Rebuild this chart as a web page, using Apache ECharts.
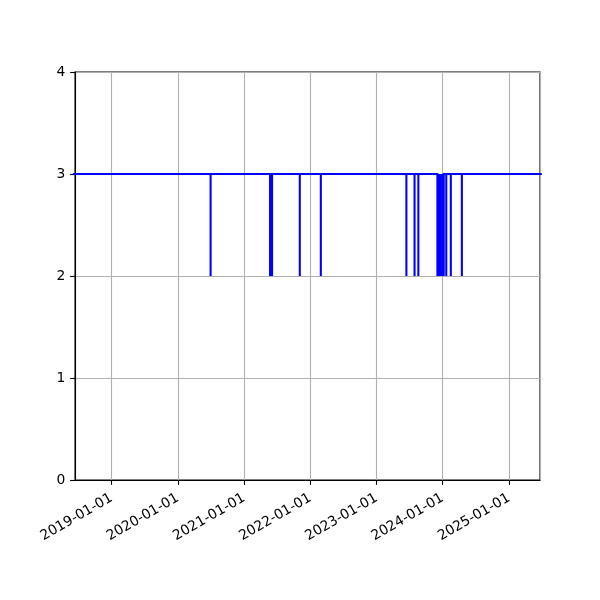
<!DOCTYPE html>
<html>
<head>
<meta charset="utf-8">
<script src="https://cdn.jsdelivr.net/npm/echarts@6/dist/echarts.min.js"></script>
<style>
html,body{margin:0;padding:0;background:#fff;}
#chart{width:600px;height:600px;}
</style>
</head>
<body>
<div id="chart"></div>
<script>
// Data
const seriesStart = '2018-06-01';
const seriesEnd = '2025-07-01';
const baseValue = 3;
const dipValue = 2;
// Days on which the value drops from 3 to 2
const dipDates = ['2020-06-30','2021-05-24','2021-05-28','2021-06-01','2021-06-04','2021-11-04','2022-02-28','2023-06-15','2023-07-30','2023-08-20','2023-12-03','2023-12-11','2023-12-15','2023-12-19','2023-12-23','2023-12-27','2023-12-31','2024-01-04','2024-01-07','2024-01-21','2024-02-15','2024-04-16'];
const xMin = '2018-06-13';
const xMax = '2025-06-21';
const yTicks = [0, 1, 2, 3, 4];

const points = [[seriesStart, baseValue]];
for (let i = 0; i < dipDates.length; i++) {
  points.push([dipDates[i], baseValue]);
  points.push([dipDates[i], dipValue]);
  points.push([dipDates[i], baseValue]);
}
points.push([seriesEnd, baseValue]);

const fs = 13.9;
const font = 'DejaVu Sans';
const chart = echarts.init(document.getElementById('chart'), null, {renderer: 'canvas'});
const DAY = 86400000;
chart.setOption({
  animation: false,
  backgroundColor: '#fff',
  grid: {left: 75, right: 60, top: 72, bottom: 120, show: true, borderColor: '#000', borderWidth: 1.1, containLabel: false},
  xAxis: {
    type: 'time',
    min: xMin,
    max: xMax,
    minInterval: 365 * DAY,
    maxInterval: 366 * DAY,
    axisLine: {show: true, lineStyle: {color: '#000', width: 1.1}},
    axisTick: {show: true, inside: false, length: 4.9, lineStyle: {color: '#000', width: 1.1}},
    minorTick: {show: false},
    splitLine: {show: true, lineStyle: {color: '#b0b0b0', width: 1.1}},
    axisLabel: {
      rotate: 30, margin: 17, fontSize: fs, fontFamily: font, color: '#000',
      showMinLabel: false, showMaxLabel: false,
      formatter: function (v) { return echarts.time.format(v, '{yyyy}-{MM}-{dd}', false); }
    }
  },
  yAxis: {
    type: 'value',
    min: yTicks[0],
    max: yTicks[yTicks.length - 1],
    interval: 1,
    axisLine: {show: true, lineStyle: {color: '#000', width: 1.1}},
    axisTick: {show: true, inside: false, length: 4.9, lineStyle: {color: '#000', width: 1.1}},
    splitLine: {show: true, lineStyle: {color: '#b0b0b0', width: 1.1}},
    axisLabel: {margin: 9.7, fontSize: fs, fontFamily: font, color: '#000'}
  },
  series: [{
    type: 'line',
    data: points,
    showSymbol: false,
    symbol: 'none',
    clip: true,
    lineStyle: {color: '#0000ff', width: 2.08, join: 'miter'},
    z: 3
  }]
});
</script>
</body>
</html>
